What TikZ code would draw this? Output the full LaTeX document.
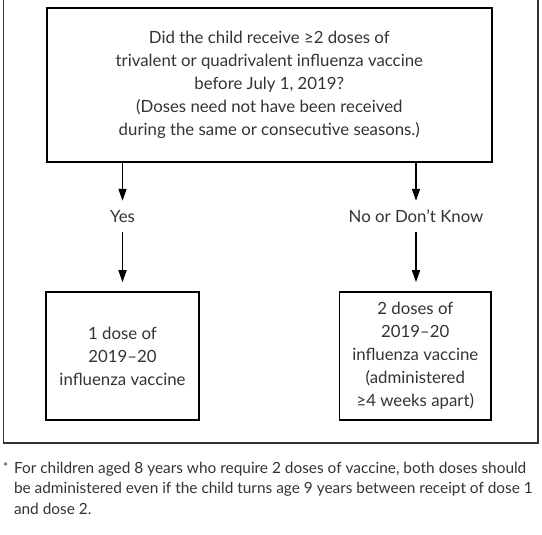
\documentclass[tikz,border=0pt]{standalone}
\usepackage{fontspec}
\setmainfont{Lato}
\usetikzlibrary{arrows.meta}
\definecolor{txt}{HTML}{333333}
\begin{document}
\begin{tikzpicture}[x=1pt,y=-1pt,
  box/.style={draw=black,line width=1.6pt,inner sep=0pt,align=center,text=txt,font=\fontsize{16.8}{23}\selectfont},
  lbl/.style={inner sep=0pt,text=txt,font=\fontsize{16.8}{23}\selectfont,minimum height=31pt},
  arr/.style={line width=1.6pt,-{Triangle[length=12pt,width=8pt]}}]
\useasboundingbox (0,0) rectangle (542,535);
\draw[line width=1.2pt,draw=black!80] (3.5,-5) rectangle (538,443);
\node[box,minimum width=445pt,minimum height=154.5pt] (q) at (269.3,85) {Did the child receive ≥2 doses of\\trivalent or quadrivalent influenza vaccine\\before July 1, 2019?\\(Doses need not have been received\\during the same or consecutive seasons.)};
\node[lbl] (yes) at (122.5,216.5) {Yes};
\node[lbl] (no) at (416,216.5) {No or Don’t Know};
\node[box,minimum width=153pt,minimum height=128pt] (b1) at (122.5,356) {1 dose of\\2019–20\\influenza vaccine};
\node[box,minimum width=151.5pt,minimum height=128pt] (b2) at (415.3,356) {2 doses of\\2019–20\\influenza vaccine\\(administered\\≥4 weeks apart)};
\draw[arr] (q.south -| yes.north) -- (yes.north);
\draw[arr] (q.south -| no.north) -- (no.north);
\draw[arr,shorten >=9pt] (yes.south) -- (b1.north -| yes.south);
\draw[arr,shorten >=9pt] (no.south) -- (b2.north -| no.south);
\node[inner sep=0pt,anchor=north west,text=txt,font=\fontsize{12}{12}\selectfont] (ast) at (3,462) {*};
\node[inner sep=0pt,anchor=north west,text=txt,align=left,font=\fontsize{15.4}{20.5}\selectfont] (fn) at (13.8,461.5) {For children aged 8 years who require 2 doses of vaccine, both doses should\\be administered even if the child turns age 9 years between receipt of dose 1\\and dose 2.};
\end{tikzpicture}
\end{document}
